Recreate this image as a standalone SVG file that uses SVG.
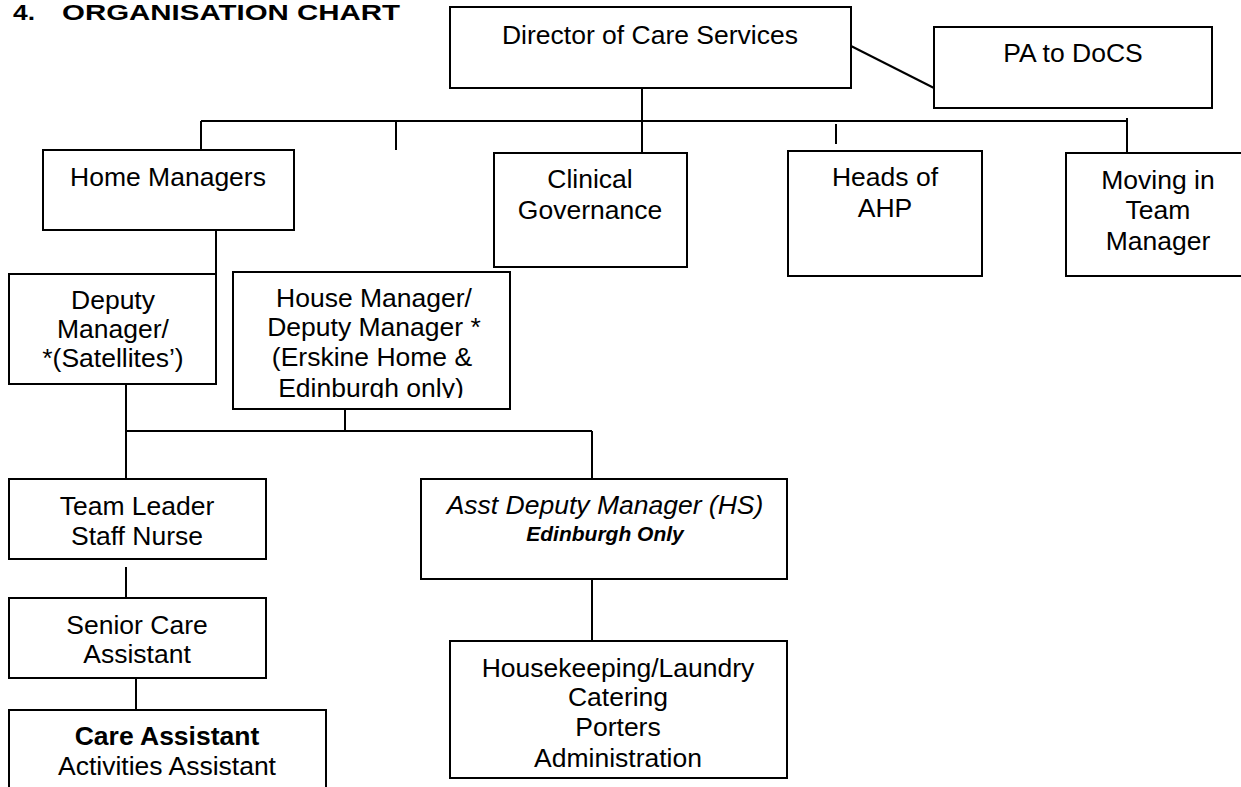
<svg xmlns="http://www.w3.org/2000/svg" width="1241" height="787" viewBox="0 0 1241 787">
<style>
.box{fill:#fff;stroke:#000;stroke-width:2}
.ln{stroke:#000;stroke-width:2;fill:none}
text{font-family:"Liberation Sans",Arial,sans-serif;font-size:26.5px;fill:#000;text-anchor:middle}
.title{font-size:22px;font-weight:bold;text-anchor:start}
.b{font-weight:bold}
.i{font-style:italic}
.bi{font-style:italic;font-weight:bold;font-size:21px}
</style>
<defs>
<clipPath id="houseClip"><rect x="233" y="272" width="277" height="126"/></clipPath>
</defs>
<rect width="1241" height="787" fill="#fff"/>
<text class="title" y="20"><tspan x="13" textLength="22" lengthAdjust="spacingAndGlyphs">4.</tspan><tspan x="62" textLength="338" lengthAdjust="spacingAndGlyphs">ORGANISATION CHART</tspan></text>

<g id="connectors">
<line class="ln" x1="851" y1="46" x2="934" y2="88"/>
<line class="ln" x1="642" y1="88" x2="642" y2="153"/>
<line class="ln" x1="201" y1="121" x2="1127" y2="121"/>
<line class="ln" x1="201" y1="121" x2="201" y2="151"/>
<line class="ln" x1="396" y1="121" x2="396" y2="150"/>
<line class="ln" x1="836" y1="124" x2="836" y2="144"/>
<line class="ln" x1="1127" y1="118" x2="1127" y2="153"/>
<line class="ln" x1="216" y1="230" x2="216" y2="274"/>
<line class="ln" x1="126" y1="384" x2="126" y2="479"/>
<line class="ln" x1="345" y1="409" x2="345" y2="431"/>
<line class="ln" x1="126" y1="431" x2="592" y2="431"/>
<line class="ln" x1="592" y1="431" x2="592" y2="479"/>
<line class="ln" x1="126" y1="567" x2="126" y2="598"/>
<line class="ln" x1="136" y1="678" x2="136" y2="710"/>
<line class="ln" x1="592" y1="579" x2="592" y2="641"/>
</g>

<g id="director">
<rect class="box" x="450" y="7" width="401" height="81"/>
<text x="650" y="44">Director of Care Services</text>
</g>
<g id="pa">
<rect class="box" x="934" y="27" width="278" height="81"/>
<text x="1073" y="62">PA to DoCS</text>
</g>
<g id="home-managers">
<rect class="box" x="43" y="150" width="251" height="80"/>
<text x="168" y="186">Home Managers</text>
</g>
<g id="clinical-governance">
<rect class="box" x="494" y="153" width="193" height="114"/>
<text x="590" y="188">Clinical</text>
<text x="590" y="219">Governance</text>
</g>
<g id="heads-ahp">
<rect class="box" x="788" y="151" width="194" height="125"/>
<text x="885" y="186">Heads of</text>
<text x="885" y="217">AHP</text>
</g>
<g id="moving-in">
<rect class="box" x="1066" y="153" width="190" height="123"/>
<text x="1158" y="189">Moving in</text>
<text x="1158" y="219">Team</text>
<text x="1158" y="250">Manager</text>
</g>
<g id="deputy-manager">
<rect class="box" x="9" y="274" width="207" height="110"/>
<text x="113" y="309">Deputy</text>
<text x="113" y="338">Manager/</text>
<text x="113" y="367">*(Satellites’)</text>
</g>
<g id="house-manager">
<rect class="box" x="233" y="272" width="277" height="137"/>
<g clip-path="url(#houseClip)">
<text x="374" y="307">House Manager/</text>
<text x="374" y="336">Deputy Manager *</text>
<text x="372" y="366">(Erskine Home &amp;</text>
<text x="371" y="397">Edinburgh only)</text>
</g>
</g>
<g id="team-leader">
<rect class="box" x="9" y="479" width="257" height="80"/>
<text x="137" y="515">Team Leader</text>
<text x="137" y="545">Staff Nurse</text>
</g>
<g id="asst-deputy">
<rect class="box" x="421" y="479" width="366" height="100"/>
<text class="i" x="605" y="514">Asst Deputy Manager (HS)</text>
<text class="bi" x="605" y="541">Edinburgh Only</text>
</g>
<g id="senior-care">
<rect class="box" x="9" y="598" width="257" height="80"/>
<text x="137" y="634">Senior Care</text>
<text x="137" y="663">Assistant</text>
</g>
<g id="housekeeping">
<rect class="box" x="450" y="641" width="337" height="137"/>
<text x="618" y="677">Housekeeping/Laundry</text>
<text x="618" y="706">Catering</text>
<text x="618" y="736">Porters</text>
<text x="618" y="767">Administration</text>
</g>
<g id="care-assistant">
<rect class="box" x="9" y="710" width="317" height="100"/>
<text class="b" x="167" y="745">Care Assistant</text>
<text x="167" y="775">Activities Assistant</text>
</g>
</svg>
